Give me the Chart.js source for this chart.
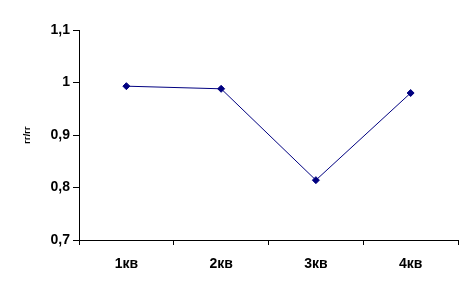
<!DOCTYPE html>
<html>
<head>
<meta charset="utf-8">
<script src="https://cdn.jsdelivr.net/npm/chart.js@4"></script>
<style>
  html, body { margin: 0; padding: 0; background: #fff; }
  #wrap { width: 475px; height: 297px; }
</style>
</head>
<body>
<div id="wrap"><canvas id="grafico" width="475" height="297"></canvas></div>
<script>
var kvartaly = ['1кв', '2кв', '3кв', '4кв'];
var znachenia = [0.993, 0.988, 0.814, 0.980];
var yMin = 0.7, yMax = 1.1, yStep = 0.1;
var yTitle = 'гг/гг';

document.addEventListener("DOMContentLoaded", function () {
  var shrift = "'Liberation Sans', Arial, sans-serif";
  new Chart(document.getElementById("grafico"), {
    type: 'line',
    data: {
      labels: kvartaly,
      datasets: [{
        data: znachenia,
        borderColor: '#000080',
        backgroundColor: '#000080',
        borderWidth: 1,
        pointStyle: 'rectRot',
        pointRadius: 3.5,
        pointHoverRadius: 3.5,
        tension: 0,
        fill: false
      }]
    },
    options: {
      responsive: false,
      animation: false,
      layout: { padding: { top: 30, right: 17, left: 0, bottom: 0 } },
      plugins: { legend: { display: false }, tooltip: { enabled: false } },
      scales: {
        x: {
          offset: true,
          grid: { offset: true, drawOnChartArea: false, color: '#000', tickLength: 5 },
          border: { color: '#000', width: 1 },
          ticks: { color: '#000', font: { family: shrift, size: 14, weight: 'bold' }, padding: 11 },
          afterFit: function (s) { s.height = 57; }
        },
        y: {
          min: yMin,
          max: yMax,
          grid: { drawOnChartArea: false, color: '#000', tickLength: 6 },
          border: { color: '#000', width: 1 },
          ticks: {
            stepSize: yStep,
            color: '#000',
            padding: 3,
            font: { family: shrift, size: 14, weight: 'bold' },
            callback: function (v) {
              var t = Math.round(v * 10) / 10;
              return String(t).replace('.', ',');
            }
          },
          title: {
            display: true,
            text: yTitle,
            color: '#000',
            font: { family: shrift, size: 9, weight: 'bold' },
            padding: { top: 22, bottom: 0 }
          },
          afterFit: function (s) { s.width = 79; }
        }
      }
    }
  });
});
</script>
</body>
</html>
